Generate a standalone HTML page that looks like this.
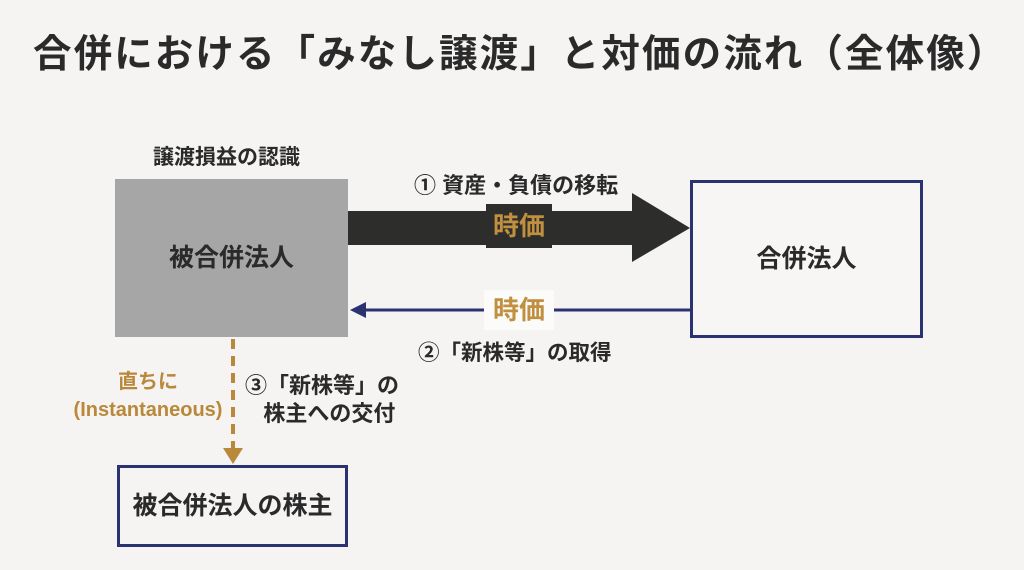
<!DOCTYPE html>
<html><head><meta charset="utf-8"><style>
html,body{margin:0;padding:0}
body{width:1024px;height:570px;background:#f5f4f2;position:relative;overflow:hidden;font-family:"Liberation Sans","Noto Sans CJK JP",sans-serif;font-weight:bold;color:#2a2a2a}
.a{position:absolute;white-space:nowrap}
.c{text-align:center}
</style></head><body>
<div class="a" style="left:33px;top:31px;font-size:38.5px;letter-spacing:2.1px;line-height:48px">合併における「みなし譲渡」と対価の流れ（全体像）</div>
<div class="a" style="left:153px;top:145px;font-size:21px;line-height:26px">譲渡損益の認識</div>
<div class="a c" style="left:115px;top:179px;width:233px;height:158px;background:#a6a6a6;line-height:158px;font-size:25px">被合併法人</div>
<div class="a c" style="left:690px;top:180px;width:227px;height:152px;border:3px solid #2b3270;line-height:152px;font-size:25px;background:#f7f6f4">合併法人</div>
<div class="a c" style="left:117px;top:465px;width:225px;height:76px;border:3px solid #2b3270;line-height:76px;font-size:25px">被合併法人の株主</div>
<svg class="a" style="left:0;top:0" width="1024" height="570">
<polygon points="348,211 632,211 632,193 690,228 632,262 632,245 348,245" fill="#2d2d2b"/>
<rect x="486" y="204" width="66" height="44" fill="#2d2d2b"/>
<line x1="690" y1="310" x2="362" y2="310" stroke="#2b3270" stroke-width="3"/>
<polygon points="350,310 366,302 366,318" fill="#2b3270"/>
<rect x="484" y="290" width="70" height="40" fill="#fbfbfa"/>
<line x1="233" y1="339" x2="233" y2="450" stroke="#b9883a" stroke-width="4" stroke-dasharray="10,7"/>
<polygon points="223,448 243,448 233,464" fill="#b9883a"/>
</svg>
<div class="a c" style="left:486px;top:206px;width:66px;font-size:26px;line-height:40px;color:#c08f3f">時価</div>
<div class="a c" style="left:484px;top:290px;width:70px;font-size:26px;line-height:40px;color:#c08f3f">時価</div>
<div class="a" style="left:414px;top:172px;font-size:22px;line-height:28px">① 資産・負債の移転</div>
<div class="a" style="left:418px;top:339px;font-size:21.5px;line-height:28px">②「新株等」の取得</div>
<div class="a c" style="left:72px;top:368px;width:152px;font-size:20px;line-height:28px;color:#b9883a">直ちに<br>(Instantaneous)</div>
<div class="a" style="left:245px;top:372px;font-size:22px;line-height:28px">③「新株等」の<br>&nbsp;&nbsp;&nbsp;株主への交付</div>
</body></html>
